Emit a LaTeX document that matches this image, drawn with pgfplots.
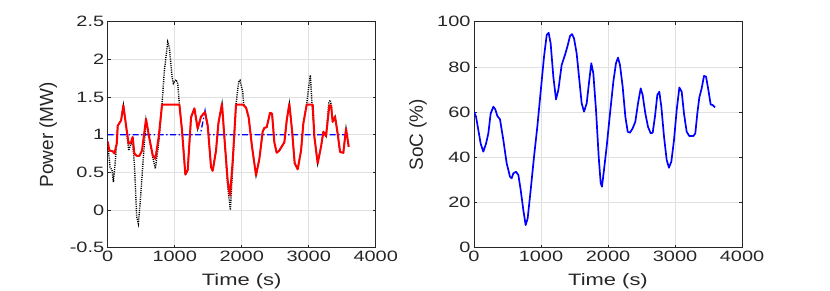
\documentclass[border=0pt]{standalone}
\usepackage{pgfplots}
\pgfplotsset{compat=1.18}
\usepackage{fontspec}
\setmainfont{Liberation Sans}[FakeStretch=1.33]
\newfontfamily\ylfont{Liberation Sans}

\definecolor{framegray}{RGB}{38,38,38}
\definecolor{gridgray}{RGB}{225,225,225}

\pgfplotsset{
  matlabax/.style={
    scale only axis,
    width=268pt, height=226pt,
    anchor=south west,
    xmin=0, xmax=4000,
    xtick={0,1000,2000,3000,4000},
    scaled x ticks=false,
    /pgf/number format/1000 sep={},
    /pgf/number format/assume math mode=true,
    grid=major,
    major grid style={gridgray, line width=0.6pt},
    axis line style={framegray, line width=0.6pt},
    tick style={framegray, line width=0.6pt},
    tick align=inside,
    major tick length=3pt,
    xtick pos=both, ytick pos=both,
    tick label style={font=\fontsize{15}{15}\selectfont, text=framegray},
    xlabel style={font=\fontsize{16.5}{16.5}\selectfont, text=framegray,
      at={(axis description cs:0.5,0)}, anchor=center, yshift=-34pt},
    ylabel style={font=\ylfont\fontsize{19}{19}\selectfont, text=framegray, anchor=center},
    xlabel={Time (s)},
  },
}

\begin{document}
\begin{tikzpicture}
\useasboundingbox (0,0) rectangle (830pt,291pt);

% left panel: power
\begin{axis}[matlabax,
  at={(107.7pt,43.3pt)},
  ymin=-0.5, ymax=2.5,
  ytick={-0.5,0,0.5,1,1.5,2,2.5},
  ylabel={Power (MW)},
  ylabel style={at={(axis description cs:-0.222,0.5)}},
]
% load (black dotted)
\addplot[black, line width=1.4pt, dash pattern=on 1.1pt off 1.1pt] coordinates {
(0,0.90) (35,0.57) (65,0.53) (85,0.37) (115,0.66) (150,1.12) (200,1.19)
(234,1.39) (274,1.12) (313,0.79) (348,0.88) (373,0.88) (398,0.62)
(433,-0.09) (458,-0.18) (483,0.08) (522,0.57) (572,1.19) (622,0.95)
(672,0.70) (711,0.55) (761,0.88) (811,1.41) (846,1.85) (896,2.23)
(920,2.16) (960,1.77) (980,1.68) (1020,1.73) (1045,1.68) (1070,1.40)
(1109,1.06) (1159,0.47) (1194,0.53) (1244,1.23) (1294,1.35) (1343,1.08)
(1393,1.24) (1453,1.30) (1493,1.12) (1542,0.57) (1567,0.52) (1617,0.79)
(1652,1.15) (1706,1.41) (1741,0.97) (1791,0.31) (1831,0.00) (1866,0.57)
(1915,1.40) (1955,1.70) (1975,1.72) (2015,1.57) (2030,1.40) (2065,1.36)
(2104,1.23) (2154,0.84) (2214,0.46) (2264,0.68) (2313,1.04) (2338,1.09)
(2373,1.10) (2423,1.29) (2453,1.28) (2487,0.90) (2522,0.76) (2562,0.79)
(2602,0.85) (2637,0.90) (2672,1.19) (2711,1.41) (2751,1.06) (2791,0.62)
(2836,0.54) (2886,0.79) (2920,1.15) (2970,1.40) (3000,1.63) (3025,1.79)
(3050,1.40) (3085,0.97) (3134,0.62) (3184,0.84) (3219,1.04) (3259,0.98)
(3300,1.42) (3320,1.46) (3340,1.38) (3358,1.17) (3393,1.24) (3433,1.01)
(3468,0.77) (3517,0.76) (3557,1.08) (3597,0.84)
};
% reference (blue dash-dot)
\addplot[blue, line width=1.3pt, dash pattern=on 6pt off 2.5pt on 1.5pt off 2.5pt] coordinates {
(0,1) (1383,1) (1453,1.32) (1508,1) (3597,1)
};
% grid power (red)
\addplot[red, line width=2pt, line join=round] coordinates {
(0,0.91) (25,0.79) (75,0.78) (100,0.75) (135,0.88) (150,1.12) (200,1.19)
(234,1.39) (274,1.12) (313,0.88) (348,0.90) (373,0.97) (398,0.75)
(433,0.72) (473,0.72) (512,0.79) (572,1.21) (622,0.95) (672,0.73)
(711,0.68) (761,0.97) (811,1.40) (1070,1.40) (1109,1.06) (1159,0.47)
(1194,0.53) (1244,1.23) (1294,1.35) (1343,1.08) (1393,1.24) (1453,1.30)
(1493,1.12) (1542,0.57) (1567,0.52) (1617,0.79) (1652,1.15) (1706,1.41)
(1741,0.97) (1791,0.39) (1826,0.19) (1866,0.66) (1915,1.40) (2015,1.40)
(2065,1.36) (2104,1.23) (2154,0.84) (2214,0.46) (2264,0.68) (2313,1.04)
(2338,1.09) (2373,1.10) (2423,1.29) (2453,1.28) (2487,0.90) (2522,0.76)
(2562,0.79) (2602,0.85) (2637,0.90) (2672,1.19) (2711,1.41) (2751,1.06)
(2791,0.62) (2836,0.54) (2886,0.79) (2920,1.15) (2970,1.40) (3060,1.40)
(3085,0.97) (3134,0.62) (3184,0.84) (3219,1.04) (3259,0.98) (3308,1.39)
(3333,1.39) (3358,1.17) (3393,1.24) (3433,1.01) (3468,0.77) (3517,0.76)
(3557,1.08) (3597,0.84)
};
\end{axis}

% right panel: state of charge
\begin{axis}[matlabax,
  at={(474pt,43.3pt)},
  ymin=0, ymax=100,
  ytick={0,20,40,60,80,100},
  ylabel={SoC (\%)},
  ylabel style={at={(axis description cs:-0.209,0.5)}},
]
\addplot[blue, line width=1.7pt, line join=round] coordinates {
(0,60) (30,58) (65,52) (100,46) (139,42.5) (179,46) (214,50.6) (249,59.4)
(289,62.4) (318,61.2) (348,58.3) (388,56.8) (438,47.6) (488,37.3)
(537,31.4) (562,30.7) (587,32.9) (627,33.6) (662,32.2) (697,25.5)
(736,16.7) (771,10.0) (801,13.0) (846,25.5) (896,40.3) (945,53.5)
(995,69.0) (1045,84.5) (1085,94.1) (1114,95.1) (1144,90.4) (1184,75.7)
(1224,65.6) (1259,69.8) (1308,80.8) (1358,85.3) (1393,88.9) (1433,93.7)
(1463,94.5) (1493,92.6) (1532,86.0) (1572,74.2) (1607,63.9) (1642,60.2)
(1682,63.9) (1721,74.2) (1751,81.6) (1781,77.1) (1821,60.9) (1861,40.3)
(1891,28.5) (1910,27.0) (1940,34.4) (1980,44.7) (2030,59.4) (2080,73.5)
(2119,81.6) (2149,84.1) (2179,80.8) (2219,71.2) (2259,58.0) (2294,51.3)
(2328,50.9) (2368,52.8) (2408,55.8) (2448,63.9) (2488,70.5) (2517,67.6)
(2557,59.4) (2597,53.5) (2637,50.6) (2667,50.9) (2701,58.0) (2736,67.6)
(2766,69.0) (2796,62.4) (2836,49.1) (2876,38.8) (2910,35.4) (2945,38.1)
(2985,47.6) (3025,60.9) (3065,70.9) (3100,69.0) (3134,59.4) (3174,51.3)
(3214,49.4) (3274,49.4) (3303,50.6) (3333,59.4) (3363,66.5) (3398,70.5)
(3433,76.0) (3463,75.7) (3498,69.8) (3532,63.4) (3562,63.1) (3597,62.1)
};
\end{axis}
\end{tikzpicture}
\end{document}
